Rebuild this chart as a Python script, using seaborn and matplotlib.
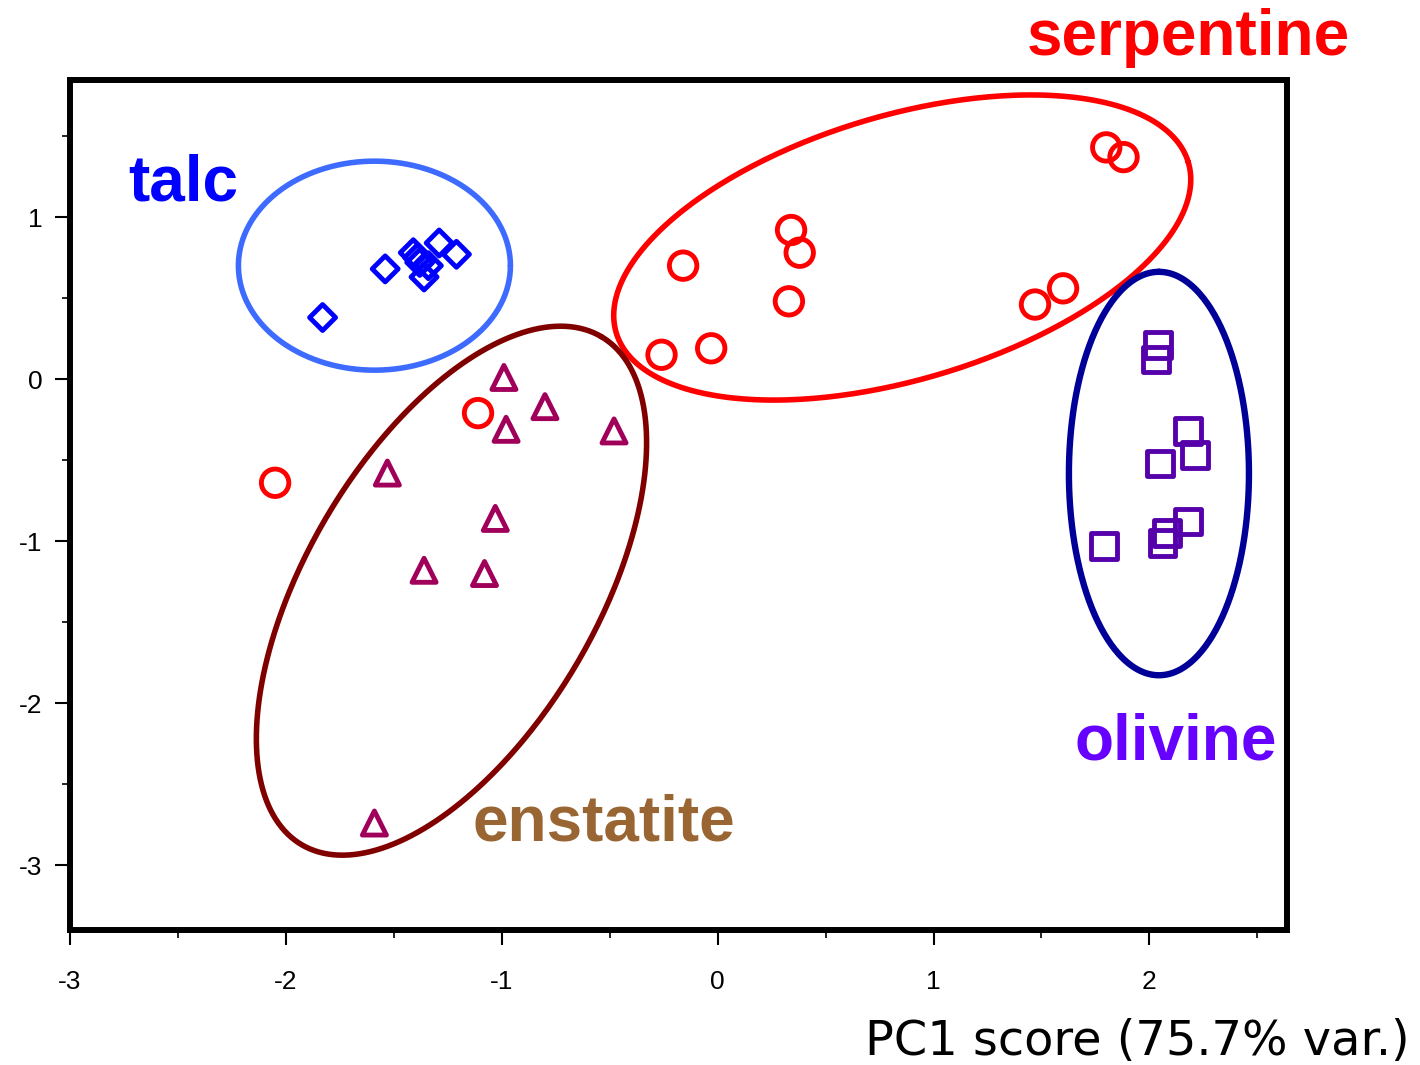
import numpy as np
import pandas as pd
import seaborn as sns
import matplotlib.pyplot as plt
from matplotlib.ticker import MultipleLocator

# PCA scores (PC1, PC2)
talc_x = [-1.83, -1.54, -1.41, -1.29, -1.21, -1.36, -1.38, -1.34, -1.39]
talc_y = [0.38, 0.68, 0.78, 0.84, 0.77, 0.63, 0.72, 0.70, 0.75]

serp_x = [1.80, 1.88, 0.34, 0.38, -0.16, 0.33, 1.60, 1.47, -0.26, -0.03, -1.11, -2.05]
serp_y = [1.43, 1.37, 0.92, 0.78, 0.70, 0.48, 0.56, 0.46, 0.15, 0.19, -0.21, -0.64]

enst_x = [-0.99, -0.80, -0.98, -0.48, -1.53, -1.03, -1.36, -1.08, -1.59]
enst_y = [0.01, -0.17, -0.31, -0.32, -0.58, -0.86, -1.18, -1.20, -2.74]

oliv_x = [2.04, 2.03, 2.18, 2.21, 2.05, 2.18, 2.08, 2.06, 1.79]
oliv_y = [0.21, 0.12, -0.32, -0.47, -0.52, -0.88, -0.95, -1.01, -1.03]

minerals = ['talc', 'serpentine', 'enstatite', 'olivine']

# group ellipses: centre, semi-axis vector 1, semi-axis vector 2 (data units)
ell_center = {'talc': (-1.59, 0.70), 'serpentine': (0.855, 0.812),
              'enstatite': (-1.233, -1.306), 'olivine': (2.044, -0.583)}
ell_u = {'talc': (0.630, 0.0), 'serpentine': (1.325, 0.526),
         'enstatite': (0.694, 1.568), 'olivine': (0.0, 1.245)}
ell_v = {'talc': (0.0, 0.645), 'serpentine': (-0.175, 0.781),
         'enstatite': (-0.579, 0.454), 'olivine': (0.417, 0.0)}

# label positions (data units)
label_xy = {'talc': (-2.73, 1.10), 'serpentine': (1.43, 2.00),
            'enstatite': (-1.135, -2.85), 'olivine': (1.655, -2.35)}

df = pd.concat([
    pd.DataFrame({'pc1': talc_x, 'pc2': talc_y, 'mineral': 'talc'}),
    pd.DataFrame({'pc1': serp_x, 'pc2': serp_y, 'mineral': 'serpentine'}),
    pd.DataFrame({'pc1': enst_x, 'pc2': enst_y, 'mineral': 'enstatite'}),
    pd.DataFrame({'pc1': oliv_x, 'pc2': oliv_y, 'mineral': 'olivine'}),
])

marker_color = {'talc': '#0000FF', 'serpentine': '#FF0000',
                'enstatite': '#A0005A', 'olivine': '#5500AA'}
ellipse_color = {'talc': '#3D6BFF', 'serpentine': '#FF0000',
                 'enstatite': '#800000', 'olivine': '#000099'}
ellipse_lw = {'talc': 4.0, 'serpentine': 4.0, 'enstatite': 4.0, 'olivine': 4.6}
text_color = {'talc': '#0000FF', 'serpentine': '#FF0000',
              'enstatite': '#996633', 'olivine': '#6600FF'}
marker = {'talc': 'D', 'serpentine': 'o', 'enstatite': '^', 'olivine': 's'}
msize = {'talc': 175, 'serpentine': 390, 'enstatite': 300, 'olivine': 340}

sns.set_style('white')
plt.rcParams['font.family'] = ['Liberation Sans', 'DejaVu Sans']
plt.rcParams['axes.unicode_minus'] = False

fig = plt.figure(figsize=(14.2, 10.65), dpi=100)
ax = fig.add_axes([0.0493, 0.1268, 0.8567, 0.7981])

t = np.linspace(0, 2 * np.pi, 400)
for m in minerals:
    cx, cy = ell_center[m]
    ux, uy = ell_u[m]
    vx, vy = ell_v[m]
    ax.plot(cx + ux * np.cos(t) + vx * np.sin(t),
            cy + uy * np.cos(t) + vy * np.sin(t),
            color=ellipse_color[m], lw=ellipse_lw[m], zorder=2)

for m in minerals:
    sub = df[df['mineral'] == m]
    sns.scatterplot(data=sub, x='pc1', y='pc2', ax=ax, marker=marker[m],
                    s=msize[m], facecolors='none', edgecolor=marker_color[m],
                    linewidth=3.5, legend=False, zorder=3)

for m in minerals:
    x, y = label_xy[m]
    ax.text(x, y, m, color=text_color[m], fontsize=46, fontweight='bold',
            ha='left', va='baseline', clip_on=False)

ax.set_xlim(-3, 2.635)
ax.set_ylim(-3.40, 1.846)
ax.xaxis.set_major_locator(MultipleLocator(1))
ax.xaxis.set_minor_locator(MultipleLocator(0.5))
ax.yaxis.set_major_locator(MultipleLocator(1))
ax.yaxis.set_minor_locator(MultipleLocator(0.5))
ax.tick_params(which='major', direction='out', length=11, width=1.5,
               labelsize=19, color='black', labelcolor='black',
               bottom=True, left=True)
ax.tick_params(which='minor', direction='out', length=6, width=1.2,
               color='black', bottom=True, left=True)
ax.tick_params(axis='x', which='major', pad=18)
ax.tick_params(axis='y', which='major', pad=9)
for s in ax.spines.values():
    s.set_color('black')
    s.set_linewidth(4.3)
ax.set_xlabel('')
ax.set_ylabel('')

fig.text(0.993, 0.009, 'PC1 score (75.7% var.)', ha='right', va='baseline',
         fontsize=34.5, color='black', family='DejaVu Sans')

fig.savefig('out.png', dpi=100)
